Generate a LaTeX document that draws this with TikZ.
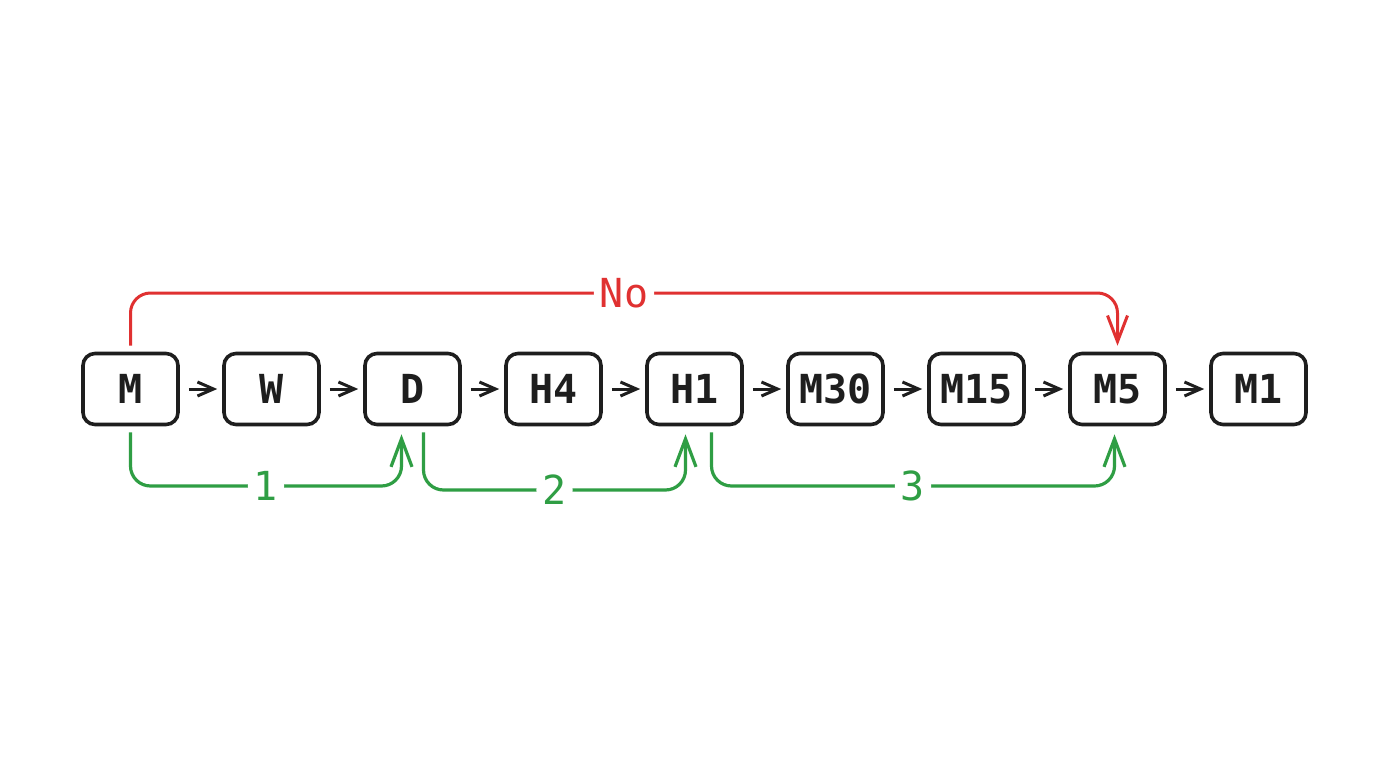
\documentclass[tikz,border=0pt]{standalone}
\usepackage{fontspec}
\newfontfamily\monofont{DejaVu Sans Mono}
\usetikzlibrary{arrows.meta}
\definecolor{ink}{HTML}{1E1E1E}
\definecolor{redc}{HTML}{E03131}
\definecolor{greenc}{HTML}{2F9E44}
\tikzset{
  x=0.5pt, y=-0.5pt,
  box/.style={draw=ink, line width=1.8pt, rounded corners=6pt, minimum width=47.5pt, minimum height=35.5pt, inner sep=0pt, font=\monofont\bfseries\fontsize{20}{24}\selectfont, text=ink},
  flow/.style={draw=ink, line width=1.5pt, -{Straight Barb[length=8pt,width=7pt,line width=1.5pt]}, shorten <=4.5pt, shorten >=2.5pt},
  redarr/.style={draw=redc, line width=1.5pt, rounded corners=10pt, -{Straight Barb[length=13pt,width=10pt,line width=1.5pt]}},
  greenarr/.style={draw=greenc, line width=1.6pt, rounded corners=10pt, -{Straight Barb[length=14pt,width=10.5pt,line width=1.6pt]}},
  lbl/.style={fill=white, inner sep=3pt, font=\monofont\fontsize{20}{24}\selectfont},
}
\begin{document}
\begin{tikzpicture}
\useasboundingbox (0,0) rectangle (1380,776);
\fill[white] (0,0) rectangle (1380,776);
\foreach \n/\t [count=\i from 0] in {M/M,W/W,D/D,H4/H4,H1/H1,M30/M30,M15/M15,M5/M5,M1/M1}{
  \node[box] (\n) at (130.5+141*\i,389) {\t};
}
\foreach \a/\b in {M/W,W/D,D/H4,H4/H1,H1/M30,M30/M15,M15/M5,M5/M1}{
  \draw[flow] (\a.east) -- (\b.west);
}
% red
\draw[redarr] ([yshift=3pt]M.north) -- (M.north |- 0,293) -- node[lbl,text=redc,midway]{No} (M5.north |- 0,293) -- ([yshift=3pt]M5.north);
% green
\draw[greenarr] ([yshift=-3pt]M.south) -- (M.south |- 0,486) -- node[lbl,text=greenc,midway]{1} ([xshift=-5.5pt]D.south |- 0,486) -- ([xshift=-5.5pt,yshift=-4pt]D.south);
\draw[greenarr] ([xshift=5.5pt,yshift=-3pt]D.south) -- ([xshift=5.5pt]D.south |- 0,490) -- node[lbl,text=greenc,midway]{2} ([xshift=-4.5pt]H1.south |- 0,490) -- ([xshift=-4.5pt,yshift=-4pt]H1.south);
\draw[greenarr] ([xshift=8.5pt,yshift=-3pt]H1.south) -- ([xshift=8.5pt]H1.south |- 0,486) -- node[lbl,text=greenc,midway]{3} ([xshift=-1.5pt]M5.south |- 0,486) -- ([xshift=-1.5pt,yshift=-4pt]M5.south);
\end{tikzpicture}
\end{document}
